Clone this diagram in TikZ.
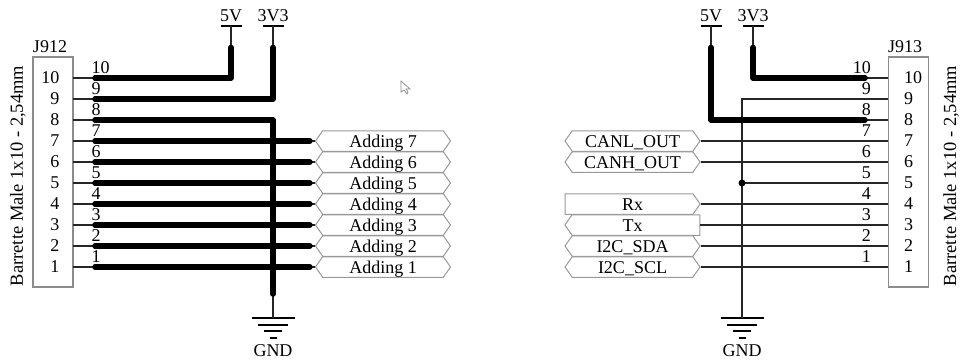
\documentclass[tikz,border=0pt]{standalone}
\usepackage{fontspec}
\setmainfont{Liberation Serif}
\usetikzlibrary{shapes.symbols,calc,positioning}

\tikzset{
  thin wire/.style={line width=1.6pt,black!85},
  fat wire/.style={line width=5.5pt,line cap=round,line join=round},
  header/.style={draw=black!45,line width=1.2pt,fill=white,minimum width=40pt,minimum height=230pt,inner sep=0pt},
  bus label/.style={signal,draw=black!40,line width=1pt,fill=white,font=\fontsize{18}{18}\selectfont,
    minimum width=135pt,minimum height=20.5pt,inner sep=0pt,text height=12pt,text depth=0pt,
    signal pointer angle=110,signal to=east and west},
  one way/.style={signal to=#1,signal from=nowhere},
  pin/.style={font=\fontsize{18}{18}\selectfont,inner sep=0pt},
  part name/.style={font=\fontsize{18.5}{18.5}\selectfont,inner sep=0pt,rotate=90},
  rail/.style={font=\fontsize{18}{18}\selectfont,inner sep=0pt,anchor=south},
}

\begin{document}
\begin{tikzpicture}[x=1pt,y=-1pt]
  \useasboundingbox (0,0) rectangle (960,361);
  \def\pitch{21}

  \node[header] (j912) at (53,172) {};
  \node[header] (j913) at (908.5,172) {};
  \node[pin] at (50,47) {J912};
  \node[pin] at (905,47) {J913};
  \node[part name] at (18,176) {Barrette Male 1x10 - 2,54mm};
  \node[part name] at (951,176) {Barrette Male 1x10 - 2,54mm};

  % pins, counted from the bottom
  \foreach \i in {1,...,10} {
    \coordinate (la\i) at (73,{267-\pitch*(\i-1)});
    \coordinate (lb\i) at (95,{267-\pitch*(\i-1)});
    \coordinate (ra\i) at (888,{267-\pitch*(\i-1)});
    \coordinate (rb\i) at (865,{267-\pitch*(\i-1)});
    \node[pin,anchor=east] at (59.5,{267-\pitch*(\i-1)}) {\i};
    \node[pin,anchor=west] at (904,{267-\pitch*(\i-1)}) {\i};
    \node[pin,anchor=west] at (91.5,{256.5-\pitch*(\i-1)}) {\i};
    \node[pin,anchor=east] at (871,{256.5-\pitch*(\i-1)}) {\i};
    \draw[thin wire] (la\i) -- (lb\i);
  }

  % supplies
  \foreach \name/\x/\txt in {lfive/231/5V,lthree/273/3V3,rfive/711/5V,rthree/753/3V3} {
    \coordinate (\name) at (\x,26);
    \coordinate (\name s) at (\x,47.5);
    \node[rail] at (\x,22) {\txt};
    \draw[line width=1.6pt] (\x-10.5,26) -- (\x+10.5,26);
    \draw[thin wire] (\name) -- (\name s);
  }

  % grounds
  \foreach \name/\x in {lgnd/273,rgnd/742} {
    \coordinate (\name) at (\x,318);
    \draw[line width=1.6pt] (\x-21.5,318) -- (\x+21.5,318);
    \draw[line width=1.6pt] (\x-15,325) -- (\x+15,325);
    \draw[line width=1.6pt] (\x-9,331) -- (\x+9,331);
    \draw[line width=1.6pt] (\x-3.5,338) -- (\x+3.5,338);
    \node[pin] at (\x,351) {GND};
  }

  % left connector
  \draw[fat wire] (lb10) -| (lfives);
  \draw[fat wire] (lb9) -| (lthrees);
  \coordinate (lgnds) at (273,294);
  \draw[thin wire] (lgnds) -- (lgnd);
  \draw[fat wire] (lb8) -| (lgnds);
  \foreach \i in {1,...,7} {
    \node[bus label] (add\i) at (383,{267-\pitch*(\i-1)}) {Adding \i};
    \coordinate (addw\i) at ($(add\i.west)+(-5,0)$);
    \draw[thin wire] (addw\i) -- (add\i.west);
    \draw[fat wire] (lb\i) -- (addw\i);
  }

  % right connector
  \node[bus label] (canl) at (632.5,141) {CANL\_OUT};
  \node[bus label] (canh) at (632.5,162) {CANH\_OUT};
  \node[bus label,one way=east] (rx) at (629,204) {\hspace*{7pt}Rx};
  \node[bus label,one way=west] (tx) at (636,225) {Tx\hspace*{7pt}};
  \node[bus label] (sda) at (632.5,246) {I2C\_SDA};
  \node[bus label] (scl) at (632.5,267) {I2C\_SCL};

  \foreach \from/\i in {canl/7,canh/6,rx/4,tx/3,sda/2,scl/1} {
    \draw[thin wire] (\from.east) -- (ra\i);
  }
  \draw[thin wire] (ra9) -| (rgnd);
  \coordinate (rjoin) at (742,{267-\pitch*4});
  \draw[thin wire] (rjoin) -- (ra5);
  \fill (rjoin) circle (3.5pt);
  \draw[thin wire] (rb10) -- (ra10);
  \draw[thin wire] (rb8) -- (ra8);
  \draw[fat wire] (rb10) -| (rthrees);
  \draw[fat wire] (rb8) -| (rfives);

  % pointer left over in the screenshot
  \draw[black!45,line width=.7pt,fill=white] (401,81) -- (401,92) -- (404,90) -- (407,94) -- (408,92) -- (406,89) -- (410,89) -- cycle;
\end{tikzpicture}
\end{document}
